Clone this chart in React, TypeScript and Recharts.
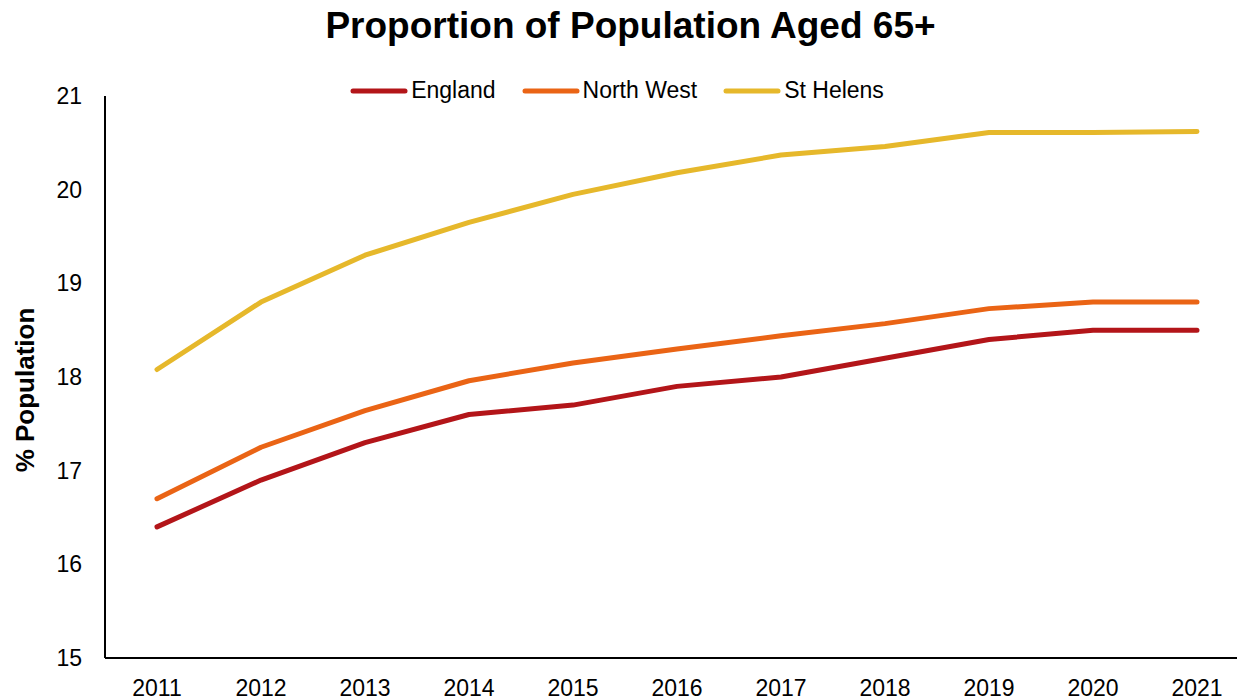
import React from 'react';
import { LineChart, Line, XAxis, YAxis, Legend } from 'recharts';

const years = ['2011', '2012', '2013', '2014', '2015', '2016', '2017', '2018', '2019', '2020', '2021'];
const england = [16.4, 16.9, 17.3, 17.6, 17.7, 17.9, 18.0, 18.2, 18.4, 18.5, 18.5];
const northWest = [16.7, 17.25, 17.64, 17.96, 18.15, 18.3, 18.44, 18.57, 18.73, 18.8, 18.8];
const stHelens = [18.08, 18.8, 19.3, 19.65, 19.95, 20.18, 20.37, 20.46, 20.61, 20.61, 20.62];
const yTicks = [15, 16, 17, 18, 19, 20, 21];

const series = [
  { key: 'england', name: 'England', color: '#B31519' },
  { key: 'northWest', name: 'North West', color: '#EA6415' },
  { key: 'stHelens', name: 'St Helens', color: '#E6B82B' },
];

const chartData = years.map((year, i) => ({
  year,
  england: england[i],
  northWest: northWest[i],
  stHelens: stHelens[i],
}));

const FONT = '"Liberation Sans", Arial, sans-serif';

function renderLegend() {
  return (
    <div style={{ display: 'flex', justifyContent: 'center', alignItems: 'center', fontFamily: FONT, fontSize: 23, color: '#000' }}>
      {series.map((s, i) => (
        <div key={s.key} style={{ display: 'flex', alignItems: 'center', marginLeft: i === 0 ? 0 : 26 }}>
          <svg width={58} height={8} style={{ display: 'block' }}>
            <line x1={3} y1={4} x2={55} y2={4} stroke={s.color} strokeWidth={5} strokeLinecap="round" />
          </svg>
          <span style={{ marginLeft: 3 }}>{s.name}</span>
        </div>
      ))}
    </div>
  );
}

export default function App() {
  return (
    <div style={{ position: 'fixed', top: 0, left: 0, width: 1237, height: 700, overflow: 'hidden', background: '#fff' }}>
      <div
        style={{
          position: 'absolute',
          top: 7,
          left: 0,
          width: 1261,
          textAlign: 'center',
          fontFamily: FONT,
          fontWeight: 'bold',
          fontSize: 37,
          lineHeight: '37px',
          color: '#000',
        }}
      >
        Proportion of Population Aged 65+
      </div>
      <LineChart width={1262} height={700} data={chartData} margin={{ top: 64, right: 13, bottom: 0, left: 0 }}>
        <XAxis
          dataKey="year"
          height={42}
          padding={{ left: 52, right: 52 }}
          tickLine={false}
          tickSize={0}
          tickMargin={22}
          axisLine={{ stroke: '#000', strokeWidth: 2 }}
          tick={{ fill: '#000', fontSize: 23, fontFamily: FONT }}
          interval={0}
        />
        <YAxis
          width={105}
          domain={[15, 21]}
          ticks={yTicks}
          allowDataOverflow
          tickLine={false}
          tickSize={0}
          tickMargin={23}
          axisLine={{ stroke: '#000', strokeWidth: 2 }}
          tick={{ fill: '#000', fontSize: 23, fontFamily: FONT }}
          label={{
            content: () => (
              <text
                x={0}
                y={0}
                transform="translate(34,390) rotate(-90)"
                textAnchor="middle"
                fontFamily={FONT}
                fontWeight="bold"
                fontSize={26}
                fill="#000"
              >
                % Population
              </text>
            ),
          }}
        />
        <Legend
          verticalAlign="top"
          content={renderLegend}
          wrapperStyle={{ position: 'absolute', top: 77, left: 0, width: 1234, height: 32 }}
        />
        {series.map((s) => (
          <Line
            key={s.key}
            type="linear"
            dataKey={s.key}
            name={s.name}
            stroke={s.color}
            strokeWidth={5}
            strokeLinecap="round"
            strokeLinejoin="round"
            dot={false}
            activeDot={false}
            isAnimationActive={false}
          />
        ))}
      </LineChart>
    </div>
  );
}
